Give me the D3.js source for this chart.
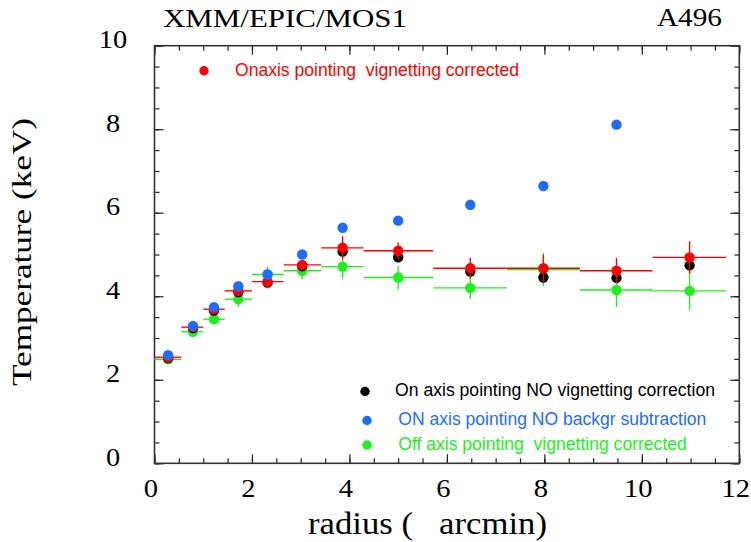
<!DOCTYPE html>
<html><head><meta charset="utf-8">
<script src="https://cdn.jsdelivr.net/npm/d3@7"></script>
<style>
html,body{margin:0;padding:0;background:#fff;}
svg{display:block;}
text{white-space:pre;}
</style></head>
<body>
<svg id="chart" width="751" height="542"></svg>
<script>
// ---- data ----
const radius   = [0.28, 0.79, 1.22, 1.72, 2.32, 3.03, 3.86, 5.00, 6.48, 7.98, 9.48, 10.98];
const binLo    = [0.00, 0.55, 1.00, 1.44, 2.00, 2.65, 3.42, 4.29, 5.72, 7.23, 8.73, 10.22];
const binHi    = [0.55, 1.00, 1.44, 2.00, 2.65, 3.42, 4.29, 5.72, 7.23, 8.73, 10.22, 11.73];
const tOnCorr     = [2.54, 3.26, 3.69, 4.13, 4.35, 4.75, 5.16, 5.09, 4.67, 4.67, 4.61, 4.93];
const tOnCorrErr  = [0.04, 0.05, 0.06, 0.08, 0.16, 0.12, 0.28, 0.20, 0.25, 0.32, 0.31, 0.39];
const tOnNoVig    = [2.52, 3.24, 3.66, 4.10, 4.33, 4.72, 5.07, 4.93, 4.59, 4.45, 4.44, 4.74];
const tOnNoBkg    = [2.59, 3.29, 3.74, 4.24, 4.52, 5.00, 5.64, 5.81, 6.19, 6.64, 8.11, null];
const tOffCorr    = [2.49, 3.15, 3.45, 3.93, 4.52, 4.61, 4.71, 4.45, 4.20, 4.64, 4.15, 4.13];
const tOffCorrErr = [0.04, 0.05, 0.07, 0.18, 0.19, 0.20, 0.29, 0.28, 0.26, 0.40, 0.41, 0.47];
const xTicks = [0, 2, 4, 6, 8, 10, 12];
const yTicks = [0, 2, 4, 6, 8, 10];
const legendLabels = [
  "Onaxis pointing  vignetting corrected",
  "On axis pointing NO vignetting correction",
  "ON axis pointing NO backgr subtraction",
  "Off axis pointing  vignetting corrected"
];

// ---- styles ----
const RED = "#ff0000", BLACK = "#000000", BLUE = "#1e6cff", GREEN = "#1ef01e";
const SERIF = "'Liberation Serif','Times New Roman',serif";
const SANS = "'Liberation Sans',Arial,Helvetica,sans-serif";

const svg = d3.select("#chart");
const L = 154.5, R = 739.3, T = 45.7, B = 463.3;
const x = d3.scaleLinear().domain([0, 12]).range([L, R]);
const y = d3.scaleLinear().domain([0, 10]).range([B, T]);

// ---- axes (ticks inward, mirrored) ----
const minorX = d3.range(0, 12.001, 0.5), minorY = d3.range(0, 10.001, 0.5);
function styleAxis(g) {
  g.select(".domain").remove();
  g.selectAll(".tick line").attr("stroke", "#222").attr("stroke-width", 1.2);
}
svg.append("g").attr("transform", `translate(0,${B})`)
  .call(d3.axisBottom(x).tickValues(minorX).tickSize(-5).tickFormat("")).call(styleAxis);
svg.append("g").attr("transform", `translate(0,${T})`)
  .call(d3.axisTop(x).tickValues(minorX).tickSize(-5).tickFormat("")).call(styleAxis);
svg.append("g").attr("transform", `translate(0,${T})`)
  .call(d3.axisTop(x).tickValues(xTicks).tickSize(-9).tickFormat("")).call(styleAxis);
svg.append("g").attr("transform", `translate(${L},0)`)
  .call(d3.axisLeft(y).tickValues(minorY).tickSize(-5).tickFormat("")).call(styleAxis);
svg.append("g").attr("transform", `translate(${R},0)`)
  .call(d3.axisRight(y).tickValues(minorY).tickSize(-5).tickFormat("")).call(styleAxis);
svg.append("g").attr("transform", `translate(${R},0)`)
  .call(d3.axisRight(y).tickValues(yTicks).tickSize(-9).tickFormat("")).call(styleAxis);

const gxb = svg.append("g").attr("transform", `translate(0,${B})`)
  .call(d3.axisBottom(x).tickValues(xTicks).tickSize(-9).tickFormat(d3.format("d"))).call(styleAxis);
gxb.selectAll(".tick text")
  .attr("y", 33.7).attr("dy", 0).attr("x", -4)
  .attr("fill", "#000").attr("font-family", SERIF).attr("font-size", 25)
  .attr("textLength", d => String(d).length * 14.3).attr("lengthAdjust", "spacingAndGlyphs");

const gyl = svg.append("g").attr("transform", `translate(${L},0)`)
  .call(d3.axisLeft(y).tickValues(yTicks).tickSize(-9).tickFormat(d3.format("d"))).call(styleAxis);
gyl.selectAll(".tick text")
  .attr("x", 113 - L).attr("y", 2).attr("dy", 0).attr("text-anchor", "middle")
  .attr("fill", "#000").attr("font-family", SERIF).attr("font-size", 25)
  .attr("textLength", d => String(d).length * 14.2).attr("lengthAdjust", "spacingAndGlyphs");

// frame
svg.append("rect").attr("x", L).attr("y", T).attr("width", R - L).attr("height", B - T)
  .attr("fill", "none").attr("stroke", "#333").attr("stroke-width", 1.6);

// ---- data marks ----
const idx = d3.range(radius.length);
const R_DOT = 5.2;
function errSeries(vals, errs, color) {
  const g = svg.append("g");
  g.selectAll(".xe").data(idx.filter(i => vals[i] != null)).join("line")
    .attr("x1", i => x(binLo[i])).attr("x2", i => x(binHi[i]))
    .attr("y1", i => y(vals[i])).attr("y2", i => y(vals[i]))
    .attr("stroke", color).attr("stroke-width", 1.35);
  g.selectAll(".ye").data(idx.filter(i => vals[i] != null)).join("line")
    .attr("x1", i => x(radius[i])).attr("x2", i => x(radius[i]))
    .attr("y1", i => y(vals[i] - errs[i])).attr("y2", i => y(vals[i] + errs[i]))
    .attr("stroke", color).attr("stroke-width", 1.35);
  dots(vals, color, g);
}
function dots(vals, color, g) {
  (g || svg.append("g")).selectAll(".pt").data(idx.filter(i => vals[i] != null)).join("circle")
    .attr("cx", i => x(radius[i])).attr("cy", i => y(vals[i])).attr("r", R_DOT)
    .attr("fill", color);
}
errSeries(tOffCorr, tOffCorrErr, GREEN);
dots(tOnNoVig, BLACK);
errSeries(tOnCorr, tOnCorrErr, RED);
dots(tOnNoBkg, BLUE);

// ---- legend ----
const legend = [
  {t: legendLabels[0], c: RED,   dx: 204,   dy: 70.7,  tx: 235,   ty: 76,  len: 284},
  {t: legendLabels[1], c: BLACK, dx: 365,   dy: 391.5, tx: 395,   ty: 396, len: 320},
  {t: legendLabels[2], c: BLUE,  dx: 367,   dy: 420.5, tx: 398.3, ty: 425, len: 308},
  {t: legendLabels[3], c: GREEN, dx: 367,   dy: 445,   tx: 398.3, ty: 450, len: 288.5}
];
const lg = svg.append("g");
lg.selectAll("circle").data(legend).join("circle")
  .attr("cx", d => d.dx).attr("cy", d => d.dy).attr("r", 4.7).attr("fill", d => d.c);
lg.selectAll("text").data(legend).join("text")
  .attr("x", d => d.tx).attr("y", d => d.ty).attr("fill", d => d.c)
  .attr("font-family", SANS).attr("font-size", 17.5)
  .attr("textLength", d => d.len).attr("lengthAdjust", "spacingAndGlyphs")
  .text(d => d.t);

// ---- titles ----
svg.append("text").attr("x", 163).attr("y", 26.7).attr("font-family", SERIF).attr("font-size", 26)
  .attr("textLength", 244).attr("lengthAdjust", "spacingAndGlyphs").text("XMM/EPIC/MOS1");
svg.append("text").attr("x", 657).attr("y", 26).attr("font-family", SERIF).attr("font-size", 25)
  .attr("textLength", 65).attr("lengthAdjust", "spacingAndGlyphs").text("A496");
svg.append("text").attr("x", 308).attr("y", 534).attr("font-family", SERIF).attr("font-size", 31)
  .attr("textLength", 239).attr("lengthAdjust", "spacingAndGlyphs").text("radius (   arcmin)");
svg.append("text").attr("transform", "translate(31,386) rotate(-90)")
  .attr("font-family", SERIF).attr("font-size", 27)
  .attr("textLength", 268).attr("lengthAdjust", "spacingAndGlyphs").text("Temperature (keV)");
</script>
</body></html>
